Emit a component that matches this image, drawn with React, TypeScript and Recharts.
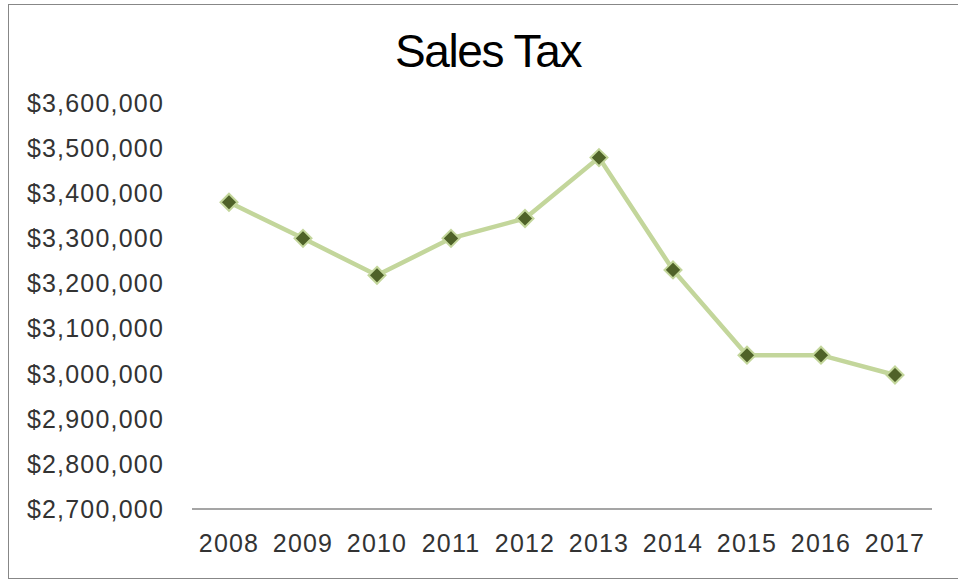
import { LineChart, Line, XAxis, YAxis } from "recharts";

const years = ["2008", "2009", "2010", "2011", "2012", "2013", "2014", "2015", "2016", "2017"];
const salesTax = [3380000, 3300000, 3218000, 3300000, 3344000, 3479000, 3230000, 3041000, 3041000, 2997000];
const yTicks = [2700000, 2800000, 2900000, 3000000, 3100000, 3200000, 3300000, 3400000, 3500000, 3600000];

const data = years.map((y, i) => ({ year: y, value: salesTax[i] }));

const money = (v: number) => "$" + v.toLocaleString("en-US");

function Diamond(props: any) {
  const { cx, cy, index } = props;
  if (cx == null || cy == null) return <g key={index} />;
  const r = 8.5;
  return (
    <path
      key={index}
      d={`M${cx},${cy - r} L${cx + r},${cy} L${cx},${cy + r} L${cx - r},${cy} Z`}
      fill="#4f6228"
      stroke="#c3d69b"
      strokeWidth={2}
    />
  );
}

export default function App() {
  const font = "'Liberation Sans', Arial, sans-serif";
  return (
    <div style={{ position: "absolute", left: 0, top: 0, width: 958, height: 581, overflow: "hidden", background: "#fff" }}>
      <div
        style={{
          position: "absolute",
          left: 8,
          top: 4,
          width: 1000,
          height: 575,
          border: "1px solid #878787",
          borderRight: "none",
          boxSizing: "border-box",
        }}
      >
        <div
          style={{
            position: "absolute",
            left: 0,
            top: 23,
            width: 958,
            textAlign: "center",
            fontFamily: font,
            fontSize: 46,
            lineHeight: "46px",
            letterSpacing: -1.4,
            color: "#000",
          }}
        >
          Sales Tax
        </div>
        <LineChart width={940} height={570} data={data} margin={{ top: 98, right: 17, bottom: 36, left: 0 }}>
          <XAxis
            dataKey="year"
            padding={{ left: 37, right: 37 }}
            height={30}
            tickLine={false}
            axisLine={{ stroke: "#878787", strokeWidth: 1.5 }}
            tickMargin={19}
            interval={0}
            tick={{ fill: "#333", fontSize: 25, fontFamily: font, letterSpacing: 1.2 }}
          />
          <YAxis
            width={183}
            domain={[2700000, 3600000]}
            ticks={yTicks}
            tickFormatter={money}
            axisLine={false}
            tickLine={false}
            tickMargin={22}
            interval={0}
            tick={{ fill: "#333", fontSize: 25, fontFamily: font, letterSpacing: 1.2 }}
          />
          <Line
            dataKey="value"
            stroke="#c3d69b"
            strokeWidth={4.5}
            dot={Diamond}
            activeDot={false}
            isAnimationActive={false}
          />
        </LineChart>
      </div>
    </div>
  );
}
